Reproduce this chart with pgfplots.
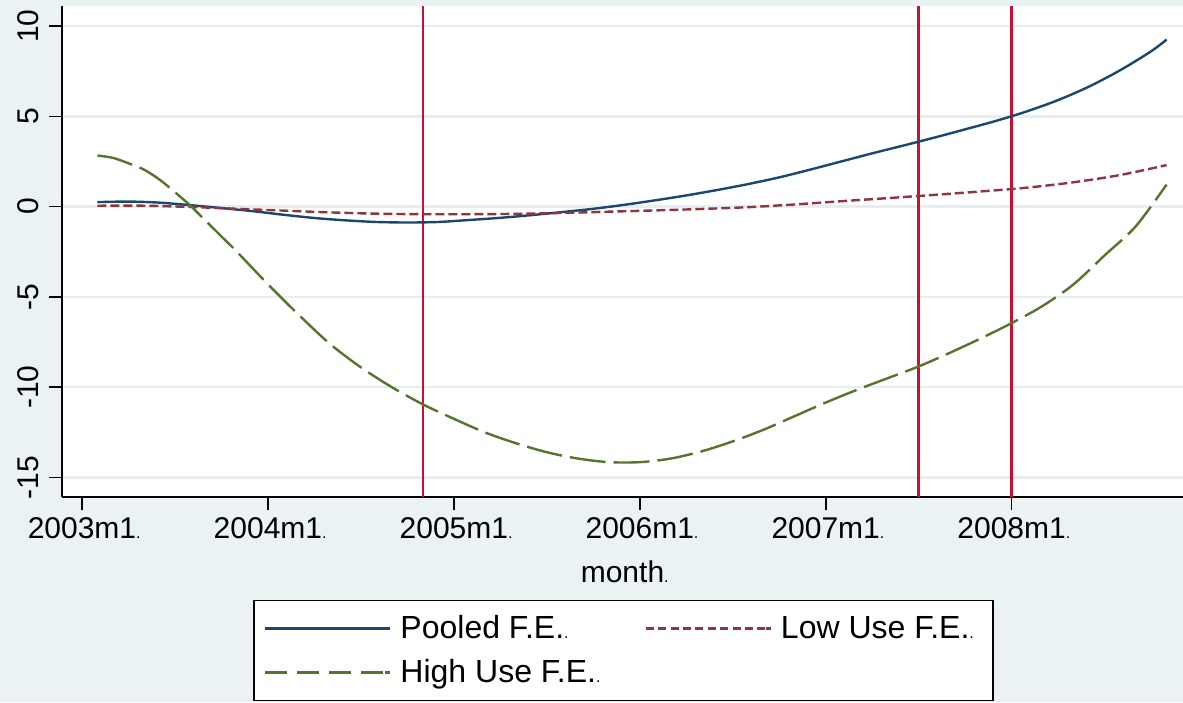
\documentclass[border=0pt]{standalone}
\usepackage{fontspec}
\setmainfont{Liberation Sans}
\usepackage{pgfplots}
\pgfplotsset{compat=1.18}
\definecolor{bg}{RGB}{234,242,243}
\definecolor{gridc}{RGB}{230,238,240}
\definecolor{sNavy}{RGB}{26,71,111}
\definecolor{sMaroon}{RGB}{144,53,59}
\definecolor{sGreen}{RGB}{85,117,47}
\definecolor{vred}{RGB}{200,16,52}
\newcommand{\sd}{{\fontsize{8}{8}\selectfont.}}

\pgfplotstableread{
t y
1 0.25
3 0.28
5 0.22
7 0.08
9 -0.08
11 -0.25
13 -0.45
15 -0.63
17 -0.76
19 -0.85
21 -0.88
23 -0.85
25 -0.74
27 -0.62
29 -0.47
31 -0.30
33 -0.12
35 0.10
37 0.35
39 0.62
41 0.92
43 1.25
45 1.62
47 2.05
49 2.50
51 2.95
53 3.38
55 3.82
57 4.28
59 4.75
61 5.28
63 5.90
65 6.65
67 7.55
69 8.60
70 9.25
}\pooled

\pgfplotstableread{
t y
1 0.05
4 0.05
7 -0.02
10 -0.12
13 -0.22
16 -0.32
19 -0.39
22 -0.42
25 -0.42
28 -0.40
31 -0.35
34 -0.28
37 -0.21
40 -0.13
43 -0.03
46 0.12
49 0.30
52 0.47
55 0.65
58 0.84
61 1.05
64 1.35
67 1.75
70 2.30
}\lowuse

\pgfplotstableread{
t y
1 2.83
2 2.70
3 2.40
4 2.05
5 1.50
6 0.80
7 0.05
8 -0.80
9 -1.65
10 -2.50
12 -4.30
14 -6.00
16 -7.60
18 -8.90
20 -10.00
22 -10.95
24 -11.75
26 -12.50
28 -13.10
30 -13.60
32 -13.95
34 -14.15
36 -14.15
38 -13.95
40 -13.55
42 -13.00
44 -12.35
46 -11.60
48 -10.85
50 -10.15
52 -9.50
54 -8.85
56 -8.10
58 -7.30
60 -6.45
62 -5.50
64 -4.30
66 -2.70
68 -1.10
70 1.22
}\highuse

\begin{document}
\begin{tikzpicture}
\fill[bg] (0,0) rectangle (591.5pt,351pt);
\begin{axis}[
  at={(31pt,102.5pt)}, anchor=south west,
  scale only axis, width=560.5pt, height=245.5pt,
  xmin=-1.29, xmax=71.06, ymin=-16.08, ymax=11.11,
  axis x line*=bottom, axis y line*=left,
  axis line style={line width=0.8pt, black, -},
  axis background/.style={fill=white},
  tick align=outside, major tick length=6.5pt,
  tick style={line width=0.8pt, black},
  xtick={0,12,24,36,48,60},
  xticklabels={2003m1\rlap{\sd},2004m1\rlap{\sd},2005m1\rlap{\sd},2006m1\rlap{\sd},2007m1\rlap{\sd},2008m1\rlap{\sd}},
  ytick={-15,-10,-5,0,5,10},
  yticklabels={-15,-10,-5,0,5,10},
  ymajorgrids, grid style={line width=1.2pt, color=gridc},
  ticklabel style={font=\fontsize{15}{18}\selectfont},
  xticklabel style={inner ysep=3.5pt},
  yticklabel style={rotate=90, anchor=base},
  yticklabel shift=5pt,
  xlabel={month\rlap{\sd}},
  xlabel style={font=\fontsize{15}{18}\selectfont, inner ysep=0pt, yshift=-7.5pt},
  legend columns=2,
  legend cell align=left,
  legend image code/.code={\draw[#1] (0pt,0pt) -- (60pt,0pt); \path (60pt,0pt) -- (62.5pt,0pt);},
  legend style={at={(0.5009,-0.2098)}, anchor=north, draw=black, line width=0.6pt, fill=white,
    font=\fontsize{16}{19}\selectfont, inner xsep=5pt, inner ysep=6pt,
    nodes={inner xsep=4.5pt, inner ysep=0pt, text height=13pt, text depth=3pt},
    /tikz/every even column/.append style={column sep=17.5pt}, row sep=6pt},
]
\addplot[vred, line width=1.3pt, forget plot] coordinates {(22,-16.08) (22,11.11)};
\addplot[vred, line width=1.3pt, forget plot] coordinates {(54,-16.08) (54,11.11)};
\addplot[vred, line width=1.3pt, forget plot] coordinates {(60,-16.08) (60,11.11)};
\addplot[sNavy, line width=1.2pt, smooth] table[x=t,y=y] {\pooled};
\addlegendentry{Pooled F.E.\sd}
\addplot[sMaroon, line width=1.2pt, smooth, dash pattern=on 4.5pt off 2pt, legend image post style={dash pattern=on 4pt off 2.2pt}] table[x=t,y=y] {\lowuse};
\addlegendentry{Low Use F.E.\sd}
\addplot[sGreen, line width=1.2pt, smooth, dash pattern=on 18pt off 4pt, legend image post style={dash pattern=on 11pt off 5pt}] table[x=t,y=y] {\highuse};
\addlegendentry{High Use F.E.\sd}
\end{axis}
\pgfresetboundingbox
\path[use as bounding box] (0,0) rectangle (591.5pt,351pt);
\end{tikzpicture}
\end{document}
